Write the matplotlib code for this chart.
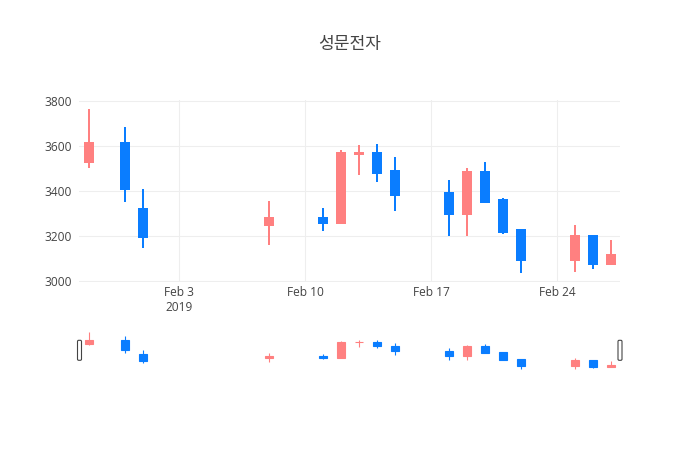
import numpy as np
import matplotlib
matplotlib.use("Agg")
from matplotlib import pyplot as plt
import matplotlib.dates as mdates
from matplotlib.patches import FancyBboxPatch

# daily prices (red = up, blue = down)
dates = ["2019-01-29", "2019-01-31", "2019-02-01", "2019-02-08",
         "2019-02-11", "2019-02-12", "2019-02-13", "2019-02-14", "2019-02-15",
         "2019-02-18", "2019-02-19", "2019-02-20", "2019-02-21", "2019-02-22",
         "2019-02-25", "2019-02-26", "2019-02-27"]
opens = [3530, 3615, 3320, 3250, 3280, 3255, 3562, 3570, 3490,
         3390, 3295, 3485, 3360, 3225, 3090, 3200, 3075]
highs = [3765, 3685, 3410, 3355, 3325, 3580, 3605, 3610, 3550,
         3450, 3500, 3530, 3370, 3225, 3250, 3200, 3180]
lows = [3500, 3350, 3145, 3160, 3220, 3255, 3470, 3440, 3310,
        3200, 3200, 3350, 3210, 3035, 3040, 3050, 3075]
closes = [3615, 3410, 3195, 3280, 3255, 3570, 3570, 3480, 3380,
          3295, 3485, 3350, 3215, 3090, 3200, 3075, 3115]

tick_dates = ["2019-02-03", "2019-02-10", "2019-02-17", "2019-02-24"]
tick_labels = ["Feb 3\n2019", "Feb 10", "Feb 17", "Feb 24"]
y_ticks = [3000, 3200, 3400, 3600, 3800]
title = "성문전자"

up_col = "#ff8080"
down_col = "#0a7dff"
txt = "#444444"
grid = "#eeeeee"

x = mdates.datestr2num(dates)
o = np.array(opens, float)
h = np.array(highs, float)
l = np.array(lows, float)
c = np.array(closes, float)
cols = [up_col if cc >= oo else down_col for oo, cc in zip(o, c)]

fig = plt.figure(figsize=(7, 4.5), dpi=100)
W, H = 700, 450
L, R = 79, 620

def px_axes(top, bottom):
    return fig.add_axes([L / W, 1 - bottom / H, (R - L) / W, (bottom - top) / H])

ax = px_axes(100, 281.5)
axs = px_axes(330, 370.7)

xlim = (x[0] - 0.56, x[-1] + 0.5)
ylim = (2996.4, 3804.5)

def candles(a, lw):
    a.vlines(x, l, h, colors=cols, linewidth=lw, zorder=2)
    a.bar(x, c - o, bottom=o, width=0.44, color=cols, edgecolor=cols,
          linewidth=lw, zorder=3)
    a.set_xlim(*xlim)
    a.set_ylim(*ylim)
    for s in a.spines.values():
        s.set_visible(False)

candles(ax, 1.44)
candles(axs, 0.8)

ax.set_xticks(mdates.datestr2num(tick_dates))
ax.set_xticklabels(tick_labels, fontfamily="Open Sans", fontsize=8.6,
                   color=txt, linespacing=1.25)
ax.set_yticks(y_ticks)
ax.set_yticklabels([str(v) for v in y_ticks], fontfamily="Open Sans",
                   fontsize=8.6, color=txt)
ax.tick_params(axis="both", length=0)
ax.tick_params(axis="x", pad=3)
ax.tick_params(axis="y", pad=5)
ax.grid(True, color=grid, linewidth=0.8, zorder=0)
ax.set_axisbelow(True)

axs.set_xticks([])
axs.set_yticks([])

# range slider grab handles
for hx in (L + 0.5, R):
    fig.patches.append(FancyBboxPatch(((hx - 2) / 100, (H - 360.3) / 100), 0.04, 0.2,
                                      boxstyle="round,pad=0,rounding_size=0.012",
                                      transform=fig.dpi_scale_trans,
                                      facecolor="white", edgecolor=txt,
                                      linewidth=0.8, zorder=5))

fig.text(0.5, 1 - 44 / H, title, ha="center", va="center",
         fontfamily=["Noto Sans CJK KR", "DejaVu Sans"], fontsize=12.3, color=txt)

fig.savefig("out.png", dpi=100)
